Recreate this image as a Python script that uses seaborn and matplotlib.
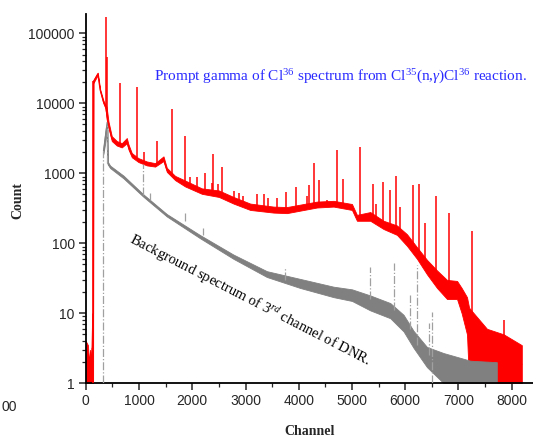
import numpy as np
import pandas as pd
import matplotlib
matplotlib.use('Agg')
import matplotlib.pyplot as plt
import seaborn as sns
from matplotlib.ticker import MultipleLocator, LogLocator, NullFormatter

# prompt gamma spectrum (red): noise band
red_ch = [0, 40, 60, 80, 100, 120, 137, 142, 225, 269, 331, 370, 390, 426, 488, 582,
          676, 770, 801, 864, 989, 1146, 1302, 1459, 1522, 1678, 1866, 2180, 2500,
          2774, 3088, 3526, 3776, 4341, 4654, 4999, 5093, 5343, 5594, 5845, 6033,
          6221, 6409, 6597, 6785, 6973, 7060, 7160, 7200, 7536, 7850, 8190]
red_lo = [1, 1, 1, 1, 1, 1, 1, 19500, 25500, 15000, 10000, 8500, 6000, 4500, 2900, 2500,
          2350, 2700, 2200, 1700, 1450, 1300, 1250, 1500, 1050, 800, 650, 510, 460,
          370, 300, 275, 270, 325, 335, 300, 210, 210, 160, 132, 92,
          60, 36, 23, 16, 16, 10, 5, 1, 1, 1, 1]
red_hi = [4, 3.5, 2, 3, 2, 10, 10, 21500, 27500, 16000, 11000, 9500, 9000, 5500, 3400, 2900,
          2700, 3200, 2600, 1950, 1650, 1480, 1400, 1750, 1200, 920, 790, 610, 570,
          460, 370, 335, 330, 395, 405, 365, 255, 280, 210, 180, 135,
          88, 58, 41, 30, 29, 23, 17, 12, 6, 5, 3.5]

# sharp lines on top of the red continuum
red_peak_ch = [140, 378, 406, 645, 958, 1102, 1334, 1628, 1866, 1960, 2080, 2242, 2367,
               2398, 2492, 2567, 2780, 2870, 2962, 3213, 3338, 3430, 3600, 3764, 3952,
               4153, 4197, 4291, 4385, 4529, 4717, 4822, 5155, 5394, 5456, 5582, 5719,
               5832, 5894, 6145, 6264, 6377, 6578, 6815, 7247, 7848]
red_peak_base = [1, 8900, 7000, 2600, 1700, 1450, 1300, 950, 720, 650, 600, 560, 520,
                 500, 480, 470, 400, 380, 360, 330, 320, 310, 300, 300, 310,
                 330, 340, 350, 360, 370, 360, 350, 230, 230, 220, 190, 170,
                 160, 150, 95, 70, 50, 33, 20, 8, 4]
red_peak_top = [21000, 170000, 46500, 19300, 17000, 2040, 2930, 8200, 3400, 900, 880, 1000, 720,
                1900, 700, 1220, 560, 520, 475, 515, 510, 440, 440, 550, 645,
                480, 680, 1420, 800, 420, 2140, 830, 2350, 700, 370, 760, 580,
                915, 330, 680, 700, 195, 480, 270, 150, 8]

# background spectrum of 3rd channel (gray)
gray_ch = [331, 360, 390, 404, 410, 457, 707, 1083, 1522, 2148, 2774, 3401, 4027,
           4654, 5000, 5343, 5719, 5969, 6157, 6408, 6721, 7222, 7720]
gray_lo = [1900, 2600, 3800, 4200, 1350, 1190, 850, 462, 242, 118, 60, 33, 23,
           17, 15, 11, 8.5, 5.5, 3.2, 1.7, 1, 1, 1]
gray_hi = [2300, 3600, 5500, 5200, 1480, 1290, 930, 500, 262, 131, 69, 40, 31,
           24, 22, 18, 14, 9.5, 5.6, 3.3, 2.7, 2.1, 2.0]

gray_peak_ch = [331, 406, 1080, 1208, 1866, 2192, 3733, 5343, 5781, 6095, 6221, 6439, 6503]
gray_peak_base = [1, 1400, 490, 420, 210, 130, 30, 16, 11, 6, 3.5, 2.5, 1]
gray_peak_top = [2100, 5000, 1350, 525, 283, 165, 44, 46, 52, 18, 49, 7.3, 10.5]

red_df = pd.DataFrame({'Channel': red_ch * 2, 'Count': red_lo + red_hi})
gray_df = pd.DataFrame({'Channel': gray_ch * 2, 'Count': gray_lo + gray_hi})

sns.set_style('ticks')
plt.rcParams['font.family'] = ['Liberation Sans', 'DejaVu Sans']
plt.rcParams['mathtext.fontset'] = 'custom'
plt.rcParams['mathtext.rm'] = 'Liberation Serif'
plt.rcParams['mathtext.it'] = 'Liberation Serif:italic'

fig = plt.figure(figsize=(5.33, 4.36), dpi=100)
ax = fig.add_axes([0.161, 0.121, 0.839, 0.847])
ax.set_yscale('log')

band = lambda v: (min(v), max(v))
sns.lineplot(data=red_df, x='Channel', y='Count', estimator='mean', errorbar=band,
             color='#ff0000', lw=0.8, err_kws={'alpha': 1, 'lw': 0.6}, ax=ax)
ax.vlines(red_peak_ch, red_peak_base, red_peak_top, color='#ff0000', lw=1.1, zorder=3)

sns.lineplot(data=gray_df, x='Channel', y='Count', estimator='mean', errorbar=band,
             color='#808080', lw=0.8, err_kws={'alpha': 1, 'lw': 0.6}, ax=ax, zorder=4)
ax.vlines(gray_peak_ch, gray_peak_base, gray_peak_top, color='#a0a0a0', lw=0.9,
          linestyles='dashdot', zorder=4)

ax.set_xlim(0, 8400)
ax.set_ylim(1, 190000)
ax.xaxis.set_major_locator(MultipleLocator(1000))
ax.xaxis.set_minor_locator(MultipleLocator(500))
ax.yaxis.set_major_locator(LogLocator(base=10))
ax.yaxis.set_minor_locator(LogLocator(base=10, subs=np.arange(2, 10)))
ax.yaxis.set_minor_formatter(NullFormatter())
ax.set_yticks([1, 10, 100, 1000, 10000, 100000])
ax.set_yticklabels(['1', '10', '100', '1000', '10000', '100000'])
ax.tick_params(which='major', direction='out', length=5, width=1.1, labelsize=10, pad=3)
ax.tick_params(which='minor', direction='out', length=3, width=0.9)
for s in ['top', 'right']:
    ax.spines[s].set_visible(False)
for s in ['left', 'bottom']:
    ax.spines[s].set_linewidth(1.3)
    ax.spines[s].set_color('black')
ax.set_xlabel('')
ax.set_ylabel('')

fig.text(0.034, 1 - 200 / 436, 'Count', rotation=90, ha='center', va='center',
         family='Liberation Serif', fontweight='bold', fontsize=10)
fig.text(310 / 533, 1 - 431 / 436, 'Channel', ha='center', va='center',
         family='Liberation Serif', fontweight='bold', fontsize=10)
fig.text(1 / 533, 1 - 407 / 436, '00', ha='left', va='center', fontsize=10)

ax.text(1284, 21000, r'Prompt gamma of Cl$^{36}$ spectrum from Cl$^{35}$(n,$\gamma$)Cl$^{36}$ reaction.',
        color='#2a2aff', family='Liberation Serif', fontsize=11, ha='left', va='baseline')
ax.text(3090, 15.5, r'Background spectrum of 3$^{rd}$ channel of DNR.',
        color='black', family='Liberation Serif', fontsize=10.5, rotation=-27.3,
        rotation_mode='anchor', ha='center', va='center')

fig.savefig('out.png', dpi=100)
